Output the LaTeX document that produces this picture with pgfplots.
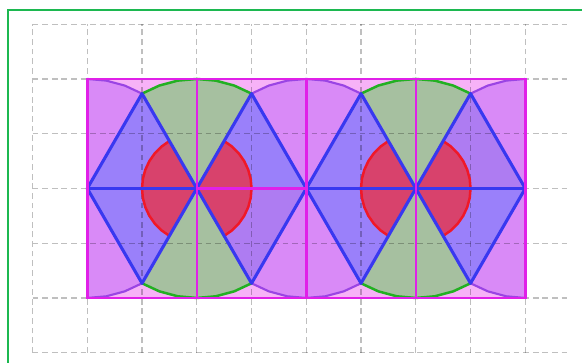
\documentclass[border=0pt]{standalone}
\usepackage{pgfplots}
\pgfplotsset{compat=1.18}
\definecolor{pinkc}{RGB}{247,178,247}
\definecolor{purplec}{RGB}{217,138,247}
\definecolor{greenc}{RGB}{166,192,160}
\definecolor{bluec}{RGB}{154,128,250}
\definecolor{bluepc}{RGB}{174,124,242}
\definecolor{redc}{RGB}{216,66,108}
\definecolor{magline}{RGB}{224,32,232}
\definecolor{blueline}{RGB}{56,56,240}
\definecolor{greenline}{RGB}{34,176,34}
\definecolor{redline}{RGB}{240,24,40}
\definecolor{purpleline}{RGB}{154,68,228}
\definecolor{framec}{RGB}{28,184,80}
\pgfplotsset{stroke/.style={on layer=axis foreground}}
\begin{document}
\begin{tikzpicture}
\begin{axis}[
  set layers, axis on top,
  x=1cm, y=1cm, xmin=0, xmax=9.8, ymin=0, ymax=6,
  anchor=origin, at={(0,0)},
  axis line style={draw=none},
  xtick={0,1,2,3,4,5,6,7,8,9}, ytick={0,1,2,3,4,5,6},
  xticklabels={}, yticklabels={}, major tick length=0pt,
  grid=major,
  major grid style={dash pattern=on 3pt off 2pt, black, opacity=0.25, line width=0.7pt},
  clip=false,
]
% rectangle
\addplot[fill=pinkc, draw=none] coordinates {(1,1) (9,1) (9,5) (1,5)} -- cycle;
% purple disks
\addplot[fill=purplec, draw=none] coordinates {(1,1) (1.3473,1.0304) (1.6840,1.1206) (2,1.2679) (2.2856,1.4679) (2.5321,1.7144) (2.7321,2) (2.8794,2.3160) (2.9696,2.6527) (3,3) (2.9696,3.3473) (2.8794,3.6840) (2.7321,4) (2.5321,4.2856) (2.2856,4.5321) (2,4.7321) (1.6840,4.8794) (1.3473,4.9696) (1,5)} -- cycle;
\addplot[fill=purplec, draw=none] coordinates {(7,3) (6.9696,3.3473) (6.8794,3.6840) (6.7321,4) (6.5321,4.2856) (6.2856,4.5321) (6,4.7321) (5.6840,4.8794) (5.3473,4.9696) (5,5) (4.6527,4.9696) (4.3160,4.8794) (4,4.7321) (3.7144,4.5321) (3.4679,4.2856) (3.2679,4) (3.1206,3.6840) (3.0304,3.3473) (3,3) (3.0304,2.6527) (3.1206,2.3160) (3.2679,2) (3.4679,1.7144) (3.7144,1.4679) (4,1.2679) (4.3160,1.1206) (4.6527,1.0304) (5,1) (5.3473,1.0304) (5.6840,1.1206) (6,1.2679) (6.2856,1.4679) (6.5321,1.7144) (6.7321,2) (6.8794,2.3160) (6.9696,2.6527)} -- cycle;
\addplot[fill=purplec, draw=none] coordinates {(9,5) (8.6527,4.9696) (8.3160,4.8794) (8,4.7321) (7.7144,4.5321) (7.4679,4.2856) (7.2679,4) (7.1206,3.6840) (7.0304,3.3473) (7,3) (7.0304,2.6527) (7.1206,2.3160) (7.2679,2) (7.4679,1.7144) (7.7144,1.4679) (8,1.2679) (8.3160,1.1206) (8.6527,1.0304) (9,1)} -- cycle;
% green sectors
\addplot[fill=greenc, draw=none] coordinates {(3,3) (4,4.7321) (3.6840,4.8794) (3.3473,4.9696) (3,5) (2.6527,4.9696) (2.3160,4.8794) (2,4.7321)} -- cycle;
\addplot[fill=greenc, draw=none] coordinates {(3,3) (4,1.2679) (3.6840,1.1206) (3.3473,1.0304) (3,1) (2.6527,1.0304) (2.3160,1.1206) (2,1.2679)} -- cycle;
\addplot[fill=greenc, draw=none] coordinates {(7,3) (8,4.7321) (7.6840,4.8794) (7.3473,4.9696) (7,5) (6.6527,4.9696) (6.3160,4.8794) (6,4.7321)} -- cycle;
\addplot[fill=greenc, draw=none] coordinates {(7,3) (8,1.2679) (7.6840,1.1206) (7.3473,1.0304) (7,1) (6.6527,1.0304) (6.3160,1.1206) (6,1.2679)} -- cycle;
% blue triangles
\addplot[fill=bluec, draw=none] coordinates {(1,3) (2,4.7321) (3,3)} -- cycle;
\addplot[fill=bluec, draw=none] coordinates {(1,3) (2,1.2679) (3,3)} -- cycle;
\addplot[fill=bluec, draw=none] coordinates {(3,3) (4,4.7321) (5,3)} -- cycle;
\addplot[fill=bluepc, draw=none] coordinates {(3,3) (4,1.2679) (5,3)} -- cycle;
\addplot[fill=bluec, draw=none] coordinates {(5,3) (6,4.7321) (7,3)} -- cycle;
\addplot[fill=bluec, draw=none] coordinates {(5,3) (6,1.2679) (7,3)} -- cycle;
\addplot[fill=bluepc, draw=none] coordinates {(7,3) (8,4.7321) (9,3)} -- cycle;
\addplot[fill=bluec, draw=none] coordinates {(7,3) (8,1.2679) (9,3)} -- cycle;
% red sectors (fill)
\addplot[fill=redc, draw=none] coordinates {(3,3) (3.5,2.1340) (3.6428,2.2340) (3.7660,2.3572) (3.8660,2.5) (3.9397,2.6580) (3.9848,2.8264) (4,3) (3.9848,3.1736) (3.9397,3.3420) (3.8660,3.5) (3.7660,3.6428) (3.6428,3.7660) (3.5,3.8660)} -- cycle;
\addplot[fill=redc, draw=none] coordinates {(3,3) (2.5,3.8660) (2.3572,3.7660) (2.2340,3.6428) (2.1340,3.5) (2.0603,3.3420) (2.0152,3.1736) (2,3) (2.0152,2.8264) (2.0603,2.6580) (2.1340,2.5) (2.2340,2.3572) (2.3572,2.2340) (2.5,2.1340)} -- cycle;
\addplot[fill=redc, draw=none] coordinates {(7,3) (7.5,2.1340) (7.6428,2.2340) (7.7660,2.3572) (7.8660,2.5) (7.9397,2.6580) (7.9848,2.8264) (8,3) (7.9848,3.1736) (7.9397,3.3420) (7.8660,3.5) (7.7660,3.6428) (7.6428,3.7660) (7.5,3.8660)} -- cycle;
\addplot[fill=redc, draw=none] coordinates {(7,3) (6.5,3.8660) (6.3572,3.7660) (6.2340,3.6428) (6.1340,3.5) (6.0603,3.3420) (6.0152,3.1736) (6,3) (6.0152,2.8264) (6.0603,2.6580) (6.1340,2.5) (6.2340,2.3572) (6.3572,2.2340) (6.5,2.1340)} -- cycle;
% red arcs
\addplot[stroke, redline, line width=1.3pt] coordinates {(3.5,2.1340) (3.6428,2.2340) (3.7660,2.3572) (3.8660,2.5) (3.9397,2.6580) (3.9848,2.8264) (4,3) (3.9848,3.1736) (3.9397,3.3420) (3.8660,3.5) (3.7660,3.6428) (3.6428,3.7660) (3.5,3.8660)};
\addplot[stroke, redline, line width=1.3pt] coordinates {(2.5,3.8660) (2.3572,3.7660) (2.2340,3.6428) (2.1340,3.5) (2.0603,3.3420) (2.0152,3.1736) (2,3) (2.0152,2.8264) (2.0603,2.6580) (2.1340,2.5) (2.2340,2.3572) (2.3572,2.2340) (2.5,2.1340)};
\addplot[stroke, redline, line width=1.3pt] coordinates {(7.5,2.1340) (7.6428,2.2340) (7.7660,2.3572) (7.8660,2.5) (7.9397,2.6580) (7.9848,2.8264) (8,3) (7.9848,3.1736) (7.9397,3.3420) (7.8660,3.5) (7.7660,3.6428) (7.6428,3.7660) (7.5,3.8660)};
\addplot[stroke, redline, line width=1.3pt] coordinates {(6.5,3.8660) (6.3572,3.7660) (6.2340,3.6428) (6.1340,3.5) (6.0603,3.3420) (6.0152,3.1736) (6,3) (6.0152,2.8264) (6.0603,2.6580) (6.1340,2.5) (6.2340,2.3572) (6.3572,2.2340) (6.5,2.1340)};
% purple arcs
\addplot[stroke, purpleline, line width=1.1pt] coordinates {(2,4.7321) (1.6840,4.8794) (1.3473,4.9696) (1,5)};
\addplot[stroke, purpleline, line width=1.1pt] coordinates {(1,1) (1.3473,1.0304) (1.6840,1.1206) (2,1.2679)};
\addplot[stroke, purpleline, line width=1.1pt] coordinates {(6,4.7321) (5.6840,4.8794) (5.3473,4.9696) (5,5) (4.6527,4.9696) (4.3160,4.8794) (4,4.7321)};
\addplot[stroke, purpleline, line width=1.1pt] coordinates {(6,1.2679) (5.6840,1.1206) (5.3473,1.0304) (5,1) (4.6527,1.0304) (4.3160,1.1206) (4,1.2679)};
\addplot[stroke, purpleline, line width=1.1pt] coordinates {(9,5) (8.6527,4.9696) (8.3160,4.8794) (8,4.7321)};
\addplot[stroke, purpleline, line width=1.1pt] coordinates {(8,1.2679) (8.3160,1.1206) (8.6527,1.0304) (9,1)};
% green arcs
\addplot[stroke, greenline, line width=1.3pt] coordinates {(4,4.7321) (3.6840,4.8794) (3.3473,4.9696) (3,5) (2.6527,4.9696) (2.3160,4.8794) (2,4.7321)};
\addplot[stroke, greenline, line width=1.3pt] coordinates {(4,1.2679) (3.6840,1.1206) (3.3473,1.0304) (3,1) (2.6527,1.0304) (2.3160,1.1206) (2,1.2679)};
\addplot[stroke, greenline, line width=1.3pt] coordinates {(8,4.7321) (7.6840,4.8794) (7.3473,4.9696) (7,5) (6.6527,4.9696) (6.3160,4.8794) (6,4.7321)};
\addplot[stroke, greenline, line width=1.3pt] coordinates {(8,1.2679) (7.6840,1.1206) (7.3473,1.0304) (7,1) (6.6527,1.0304) (6.3160,1.1206) (6,1.2679)};
% blue lines
\addplot[stroke, blueline, line width=1.6pt] coordinates {(1,3) (3,3)};
\addplot[stroke, blueline, line width=1.6pt] coordinates {(5,3) (9,3)};
\addplot[stroke, blueline, line width=1.6pt, line join=round] coordinates {(1,3) (2,4.7321) (3,3) (4,4.7321) (5,3) (4,1.2679) (3,3) (2,1.2679)} -- cycle;
\addplot[stroke, blueline, line width=1.6pt, line join=round] coordinates {(5,3) (6,4.7321) (7,3) (8,4.7321) (9,3) (8,1.2679) (7,3) (6,1.2679)} -- cycle;
% magenta lines
\addplot[stroke, magline, line width=1.3pt] coordinates {(3,3) (5,3)};
\addplot[stroke, magline, line width=1.3pt] coordinates {(3,1) (3,5)};
\addplot[stroke, magline, line width=1.3pt] coordinates {(5,1) (5,5)};
\addplot[stroke, magline, line width=1.3pt] coordinates {(7,1) (7,5)};
\addplot[stroke, magline, line width=1.3pt] coordinates {(1,1) (9,1) (9,5) (1,5)} -- cycle;
% frame
\draw[framec, line width=1.1pt] (axis cs:10.6,6.259) -- (axis cs:-0.447,6.259) -- (axis cs:-0.447,-0.6);
\end{axis}
\pgfresetboundingbox
\useasboundingbox (-0.594,-0.170) rectangle (10.036,6.442);
\end{tikzpicture}
\end{document}
